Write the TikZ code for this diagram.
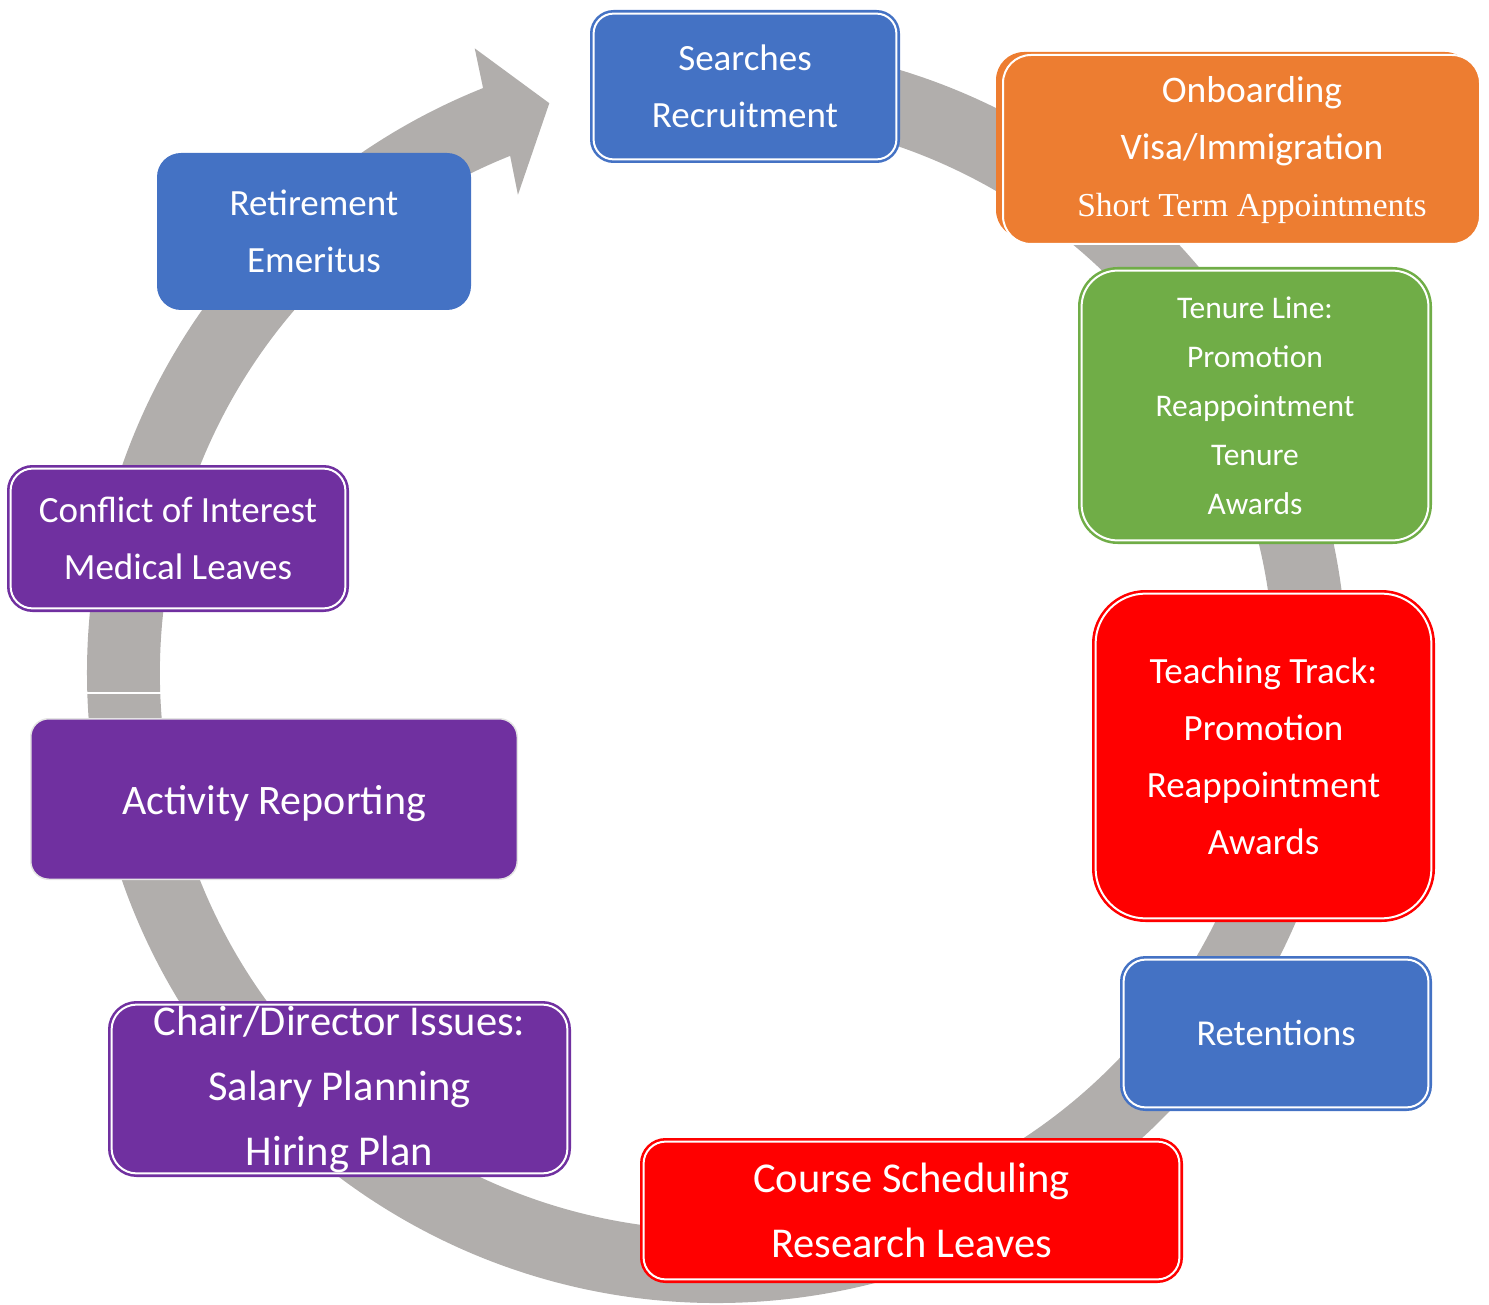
\documentclass[tikz,border=0pt]{standalone}
\usepackage{fontspec}
\setmainfont{Carlito}
\newfontfamily\garfont{Liberation Serif}
\definecolor{cblue}{HTML}{4472C4}
\definecolor{corange}{HTML}{ED7D31}
\definecolor{cgreen}{HTML}{70AD47}
\definecolor{cred}{HTML}{FF0000}
\definecolor{cpurple}{HTML}{7030A0}
\definecolor{ringgray}{HTML}{B1AEAC}
\definecolor{paleline}{HTML}{E4E4E4}
\tikzset{
  card/.style={rectangle, align=center, text=white, inner sep=0pt},
  dbl/.style={fill=#1, draw=#1, double=white, double distance=2pt, line width=2.6pt},
  fs/.style 2 args={font=\fontsize{#1}{#2}\selectfont},
}
\begin{document}
\begin{tikzpicture}[x=1pt,y=1pt]
\useasboundingbox (0,0) rectangle (1489,-1305);
% circular arrow
\fill[ringgray, shift={(717,-673)}]
  (95:630) arc[start angle=95, end angle=-248.2, radius=630]
  -- (111.2:670) -- (106.4:594) -- (112.6:518) -- (111.8:557)
  arc[start angle=-248.2, end angle=95, radius=557] -- cycle;
\draw[white, line width=2pt] (84,-693) -- (166,-693);

% Searches
\node[card, dbl=cblue, rounded corners=20, minimum width=302.8, minimum height=145.8, fs={37}{57}]
  (srch) at (745,-86.5) {Searches\\Recruitment};
% Onboarding
\node[rectangle, fill=corange, rounded corners=28, minimum width=477, minimum height=186]
  (obb) at (1234.5,-145) {};
\node[rectangle, fill=corange, draw=white, line width=2pt, rounded corners=28, minimum width=477, minimum height=189]
  (obf) at (1241.5,-149.5) {};
\node[card, fs={37.5}{57}] (obt) at (1252,-150.5)
  {Onboarding\\Visa/Immigration\\{\garfont\fontsize{33.5}{57}\selectfont Short Term Appointments}};
% Tenure
\node[card, dbl=cgreen, rounded corners=36, minimum width=346.8, minimum height=269.8, fs={31.5}{49}]
  (ten) at (1255,-405.5) {Tenure Line:\\Promotion\\Reappointment\\Tenure\\Awards};
% Teaching
\node[card, dbl=cred, rounded corners=50, minimum width=335.8, minimum height=324.8, fs={37}{57}]
  (tea) at (1263.5,-756) {Teaching Track:\\Promotion\\Reappointment\\Awards};
% Retentions
\node[card, dbl=cblue, rounded corners=22, minimum width=304.8, minimum height=147.8, fs={36.5}{57}]
  (rtn) at (1276,-1033.5) {Retentions};
% Course
\node[card, dbl=cred, rounded corners=22, minimum width=535.8, minimum height=137.8, fs={42.5}{65}]
  (crs) at (911.5,-1210.5) {Course Scheduling\\Research Leaves};
% Chair
\node[card, dbl=cpurple, rounded corners=25, minimum width=455.8, minimum height=168.8, fs={42.5}{65}]
  (chr) at (339.5,-1089) {Chair/Director Issues:\\Salary Planning\\Hiring Plan};
% Activity
\node[card, fill=cpurple, draw=paleline, line width=1.5pt, rounded corners=18, minimum width=486.5, minimum height=160.5, fs={42}{60}, text height=30.4pt, text depth=0pt]
  (act) at (274,-799) {Activity Reporting};
% Conflict
\node[card, dbl=cpurple, rounded corners=22, minimum width=334.8, minimum height=139.8, fs={37}{57}]
  (coi) at (178,-538.5) {Conflict of Interest\\Medical Leaves};
% Retirement
\node[card, fill=cblue, rounded corners=24, minimum width=314, minimum height=157, fs={37}{57}]
  (rtm) at (314,-231.5) {Retirement\\Emeritus};
\end{tikzpicture}
\end{document}
